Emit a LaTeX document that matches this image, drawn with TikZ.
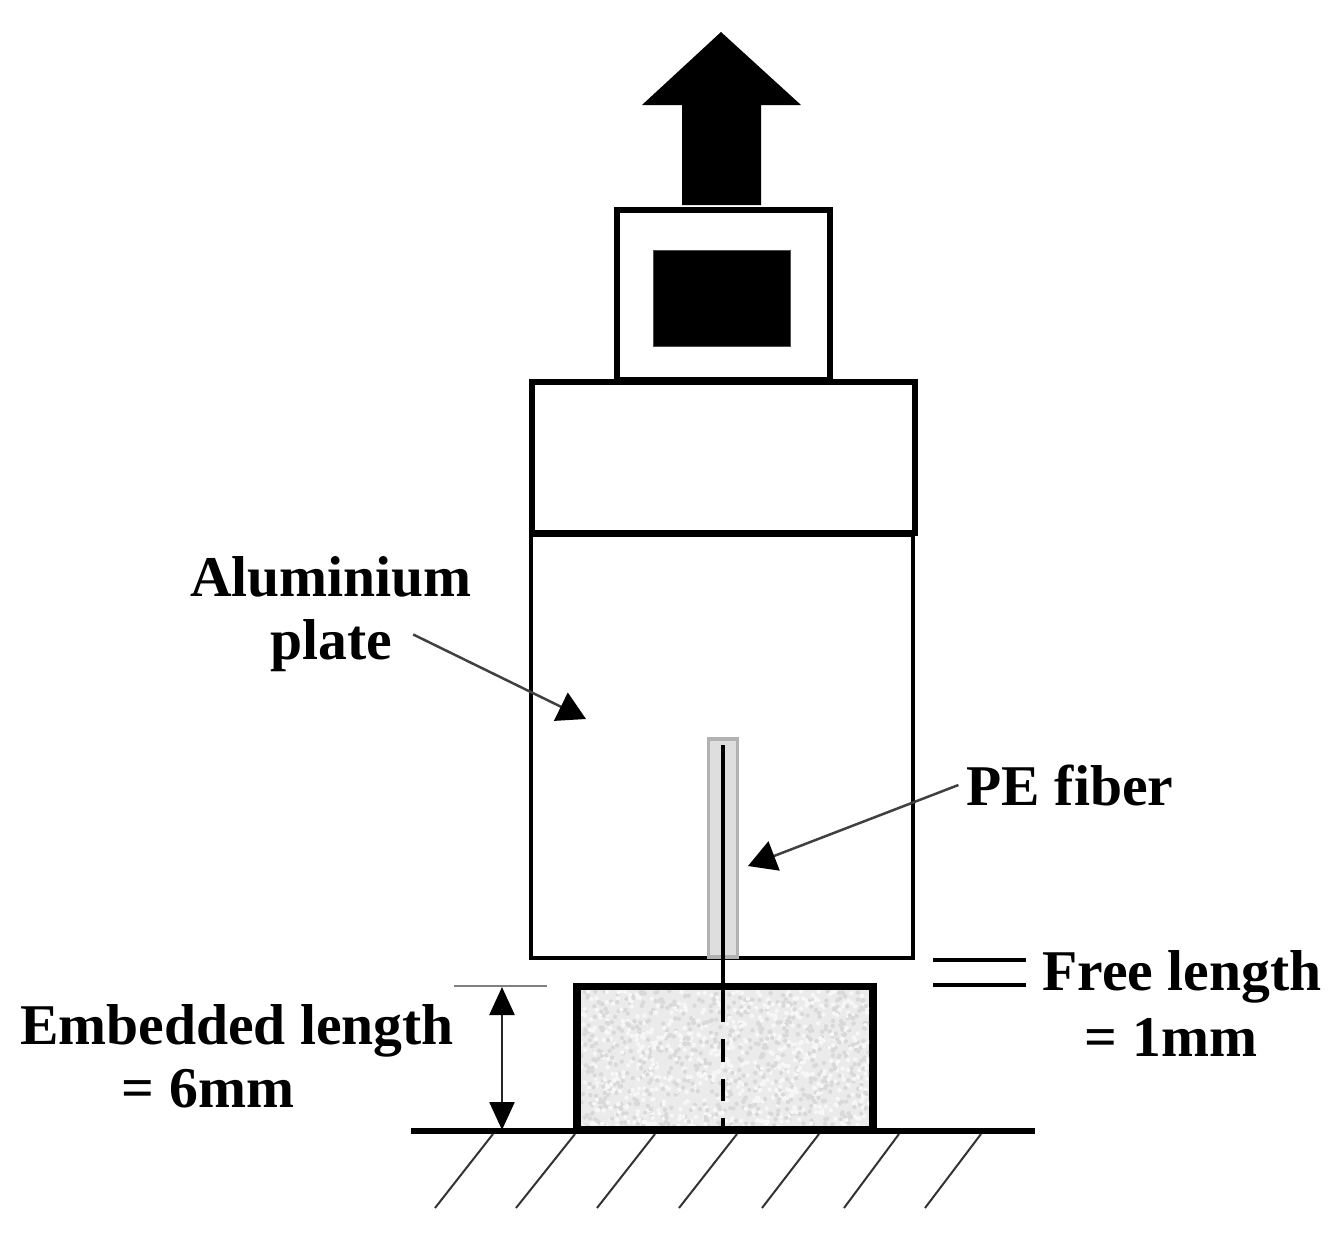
\documentclass[tikz,border=0pt]{standalone}
\usepackage{fontspec}
\setmainfont{Liberation Serif}
\usetikzlibrary{arrows.meta,positioning}

\tikzset{
  box/.style={draw=black, line width=0.12cm, fill=white, outer sep=0pt, inner sep=0pt},
  thinbox/.style={box, line width=0.08cm},
  labeltext/.style={font=\fontsize{32.8}{38}\selectfont\bfseries, inner sep=0.42cm},
  pointer/.style={line width=0.05cm, draw=black!75, -{Triangle[length=0.56cm,width=0.62cm,black]}},
  hatchline/.style={line width=0.04cm, draw=black!80},
  dimline/.style={line width=0.05cm, draw=black!85, {Triangle[length=0.56cm,width=0.5cm,black]}-{Triangle[length=0.56cm,width=0.5cm,black]}}
}

\begin{document}
\begin{tikzpicture}[x=0.02cm,y=-0.02cm]
  \useasboundingbox (0,0) rectangle (1340,1235);

  % load arrow
  \fill[black] (721,32) -- (801,105) -- (761,105) -- (761,205) -- (682,205) -- (682,105) -- (642,105) -- cycle;

  % grip and plate
  \node[thinbox, minimum width=7.64cm, minimum height=8.46cm] (plate) at (722,746.5) {};
  \node[box, minimum width=7.66cm, minimum height=3.02cm] (block) at (723.5,457.5) {};
  \node[box, minimum width=4.26cm, minimum height=3.42cm] (grip) at (723.5,295) {};
  \node[fill=black, draw=black!70, outer sep=0pt, minimum width=2.74cm, minimum height=1.92cm] (jaw) at (722,298) {};

  % sleeve
  \node[draw=black!30, fill=black!13, line width=0.07cm, outer sep=0pt, minimum width=0.58cm, minimum height=4.36cm] (sleeve) at (723,848) {};

  % matrix
  \node[box, line width=0.15cm, fill=black!8, minimum width=5.92cm, minimum height=2.86cm] (matrix) at (725,1058) {};
  \begin{scope}
    \clip (581,990.5) rectangle (869,1125.5);
    \pgfmathsetseed{42}
    \foreach \i in {1,...,700} {
      \fill[black!15] ({581+288*rnd},{991+137*rnd}) circle (2.2);
      \fill[black!3] ({581+288*rnd},{991+137*rnd}) circle (2.2);
    }
  \end{scope}

  % fiber
  \coordinate (fibtop) at (723,745);
  \coordinate (fibmid) at (723,1007);
  \coordinate (fibbot) at (723,1130);
  \draw[line width=0.09cm] (fibtop) -- (fibmid);
  \draw[line width=0.09cm, dash pattern=on 0.46cm off 0.34cm, dash phase=0.17cm] (fibmid) -- (fibbot);

  % ground
  \coordinate (gndl) at (411,1131);
  \coordinate (gndr) at (1035,1131);
  \draw[line width=0.13cm] (gndl) -- (gndr);
  \foreach \xa/\xb [count=\n] in {493/435,575/516,655/597,737/679,819/762,899/844,981/925} {
    \coordinate (ha\n) at (\xa,1134);
    \coordinate (hb\n) at (\xb,1208);
    \draw[hatchline] (ha\n) -- (hb\n);
  }

  % labels
  \node[labeltext] (alum) at (331,577) {Aluminium};
  \node[labeltext] (labplate) at (331,646) {plate};
  \node[labeltext, inner sep=0.16cm] (labpe) at (1070,785) {PE fiber};
  \node[labeltext] (free) at (1182,977) {Free length};
  \node[labeltext] (freeval) at (1171,1037) {= 1mm};
  \node[labeltext] (embed) at (237,1031) {Embedded length};
  \node[labeltext] (embedval) at (208,1089) {= 6mm};

  % pointers
  \coordinate (alumtip) at (586,719);
  \coordinate (petip) at (748,866);
  \draw[pointer] (labplate.8) -- (alumtip);
  \draw[pointer] (labpe.west) -- (petip);

  % free length marks
  \coordinate (fa) at (933,960);
  \coordinate (fb) at (1026,960);
  \coordinate (fc) at (933,985);
  \coordinate (fd) at (1026,985);
  \draw[line width=0.08cm] (fa) -- (fb);
  \draw[line width=0.08cm] (fc) -- (fd);

  % embedded length
  \coordinate (ta) at (454,986);
  \coordinate (tb) at (547,986);
  \coordinate (dimtop) at (502,987);
  \coordinate (dimbot) at (502,1130);
  \draw[line width=0.05cm, draw=black!50] (ta) -- (tb);
  \draw[dimline] (dimtop) -- (dimbot);
\end{tikzpicture}
\end{document}
